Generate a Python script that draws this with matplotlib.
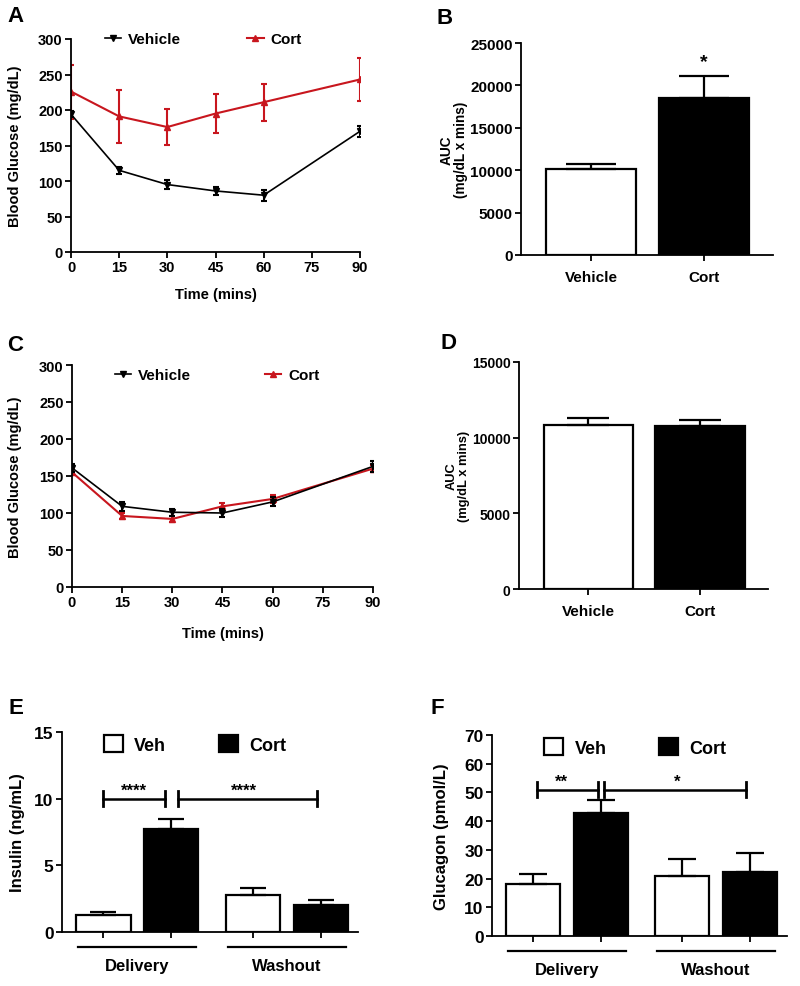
import numpy as np
import matplotlib
matplotlib.use("Agg")
import matplotlib.pyplot as plt
from matplotlib.patches import Patch
from matplotlib.lines import Line2D

plt.rcParams["font.family"] = ["Liberation Sans", "DejaVu Sans"]
plt.rcParams["font.weight"] = "bold"
plt.rcParams["axes.labelweight"] = "bold"
plt.rcParams["axes.linewidth"] = 1.3

RED = "#c8161e"

# data
time = [0, 15, 30, 45, 60, 90]
a_veh = [194, 115, 95, 86, 80, 170]
a_veh_err = [4, 5, 6, 6, 8, 8]
a_cort = [226, 191, 176, 195, 211, 243]
a_cort_err = [38, 37, 25, 27, 26, 30]

c_veh = [161, 109, 101, 100, 115, 163]
c_veh_err = [5, 6, 5, 6, 6, 7]
c_cort = [155, 96, 92, 109, 119, 160]
c_cort_err = [4, 4, 4, 5, 5, 5]

auc_groups = ["Vehicle", "Cort"]
b_auc = [10200, 18550]
b_auc_err = [500, 2550]
d_auc = [10850, 10750]
d_auc_err = [480, 420]

phases = ["Delivery", "Washout"]
e_insulin = [1.25, 7.75, 2.8, 2.0]
e_insulin_err = [0.25, 0.75, 0.5, 0.4]
f_glucagon = [18, 43, 21, 22.3]
f_glucagon_err = [3.7, 4.5, 5.7, 6.5]

W, H = 800, 987
fig = plt.figure(figsize=(W / 100, H / 100), dpi=100)


def px_axes(x0, y0, x1, y1):
    return fig.add_axes([x0 / W, 1 - y1 / H, (x1 - x0) / W, (y1 - y0) / H])


def style(ax, fs):
    for s in ["top", "right"]:
        ax.spines[s].set_visible(False)
    ax.tick_params(direction="out", length=4, width=1.3, labelsize=fs)
    for t in ax.get_xticklabels() + ax.get_yticklabels():
        t.set_fontweight("bold")


def letter(x, y, s):
    fig.text(x / W, 1 - y / H, s, fontsize=16, fontweight="bold", va="top", ha="left")


def line_panel(ax, veh, veh_err, cort, cort_err, leg_x, leg_y, colsp):
    ax.errorbar(time, veh, yerr=veh_err, color="black", lw=1.2, marker="v", ms=5,
                capsize=2.5, elinewidth=1.5, capthick=1.5, zorder=3)
    ax.errorbar(time, cort, yerr=cort_err, color=RED, lw=1.5, marker="^", ms=5,
                capsize=2.5, elinewidth=1.5, capthick=1.5, zorder=2)
    ax.set_xlim(0, 90)
    ax.set_ylim(0, 300)
    ax.set_xticks([0, 15, 30, 45, 60, 75, 90])
    ax.set_yticks(np.arange(0, 301, 50))
    ax.set_xlabel("Time (mins)", fontsize=10.5)
    ax.set_ylabel("Blood Glucose (mg/dL)", fontsize=10.5)
    style(ax, 10.5)
    ax.tick_params(axis="x", pad=2)
    ax.tick_params(axis="y", pad=2)
    for sp in ax.spines.values():
        sp.set_clip_on(False)
    handles = [Line2D([], [], color="black", marker="v", ms=5, lw=1.2),
               Line2D([], [], color=RED, marker="^", ms=5, lw=1.5)]
    ax.legend(handles, ["Vehicle", "Cort"], ncol=2, frameon=False, loc="center left",
              bbox_to_anchor=(leg_x, leg_y), borderpad=0, handlelength=1.1,
              handletextpad=0.45, columnspacing=colsp,
              prop={"size": 11, "weight": "bold"})


def auc_panel(ax, vals, errs, ymax, step, fs, lab_fs, cap):
    x = np.arange(len(auc_groups))
    ax.bar(x, vals, width=0.8, color=["white", "black"], edgecolor="black", lw=1.6, zorder=2)
    ax.errorbar(x, vals, yerr=[np.zeros(len(vals)), errs], fmt="none", ecolor="black",
                elinewidth=1.6, capthick=1.6, capsize=cap, zorder=3)
    ax.set_xlim(-0.62, 1.61)
    ax.set_ylim(0, ymax)
    ax.set_yticks(np.arange(0, ymax + 1, step))
    ax.set_xticks(x)
    ax.set_xticklabels(auc_groups)
    ax.set_ylabel("AUC\n(mg/dL x mins)", fontsize=lab_fs, linespacing=1.05)
    style(ax, fs)
    ax.tick_params(axis="x", pad=7, labelsize=11)
    ax.tick_params(axis="y", pad=2)


def phase_panel(ax, vals, errs, ymax, step, ylabel, lab_x, sig, leg_x, cap):
    x = np.array([0, 1, 2.2, 3.2])
    colors = ["white", "black", "white", "black"]
    ax.bar(x, vals, width=0.8, color=colors, edgecolor="black", lw=1.6, zorder=2)
    ax.errorbar(x, vals, yerr=[np.zeros(len(vals)), errs], fmt="none", ecolor="black",
                elinewidth=1.6, capthick=1.6, capsize=cap, zorder=3)
    ax.set_xlim(-0.61, 3.75)
    ax.set_ylim(0, ymax)
    ax.set_yticks(np.arange(0, ymax + 1, step))
    ax.set_xticks(x)
    ax.set_xticklabels([])
    ax.set_ylabel(ylabel, fontsize=12)
    ax.yaxis.set_label_coords(lab_x, 0.5)
    style(ax, 12.5)
    ax.tick_params(axis="y", pad=2)
    trans = ax.get_xaxis_transform()
    for c, name in zip([0.5, 2.7], phases):
        ax.plot([c - 0.87, c + 0.87], [-0.075, -0.075], color="black", lw=1.6,
                transform=trans, clip_on=False)
        ax.text(c, -0.13, name, transform=trans, ha="center", va="top",
                fontsize=12, fontweight="bold")
    # significance brackets
    cap_h = ymax * 0.036
    for (x0, x1), ylev, star, sx in sig:
        ax.plot([x0, x1], [ylev, ylev], color="black", lw=1.8, zorder=4)
        for xx in (x0, x1):
            ax.plot([xx, xx], [ylev - cap_h, ylev + cap_h], color="black", lw=2, zorder=4)
        ax.text(sx, ylev + ymax * 0.005, star, ha="center", va="bottom",
                fontsize=12, fontweight="bold")
    handles = [Patch(facecolor="white", edgecolor="black", lw=1.6),
               Patch(facecolor="black", edgecolor="black", lw=1.6)]
    ax.legend(handles, ["Veh", "Cort"], ncol=2, frameon=False, loc="upper left",
              bbox_to_anchor=(leg_x, 1.03), borderpad=0, handlelength=1.05,
              handleheight=1.05, handletextpad=0.65, columnspacing=2.9,
              prop={"size": 13, "weight": "bold"})


# A
axA = px_axes(71, 40, 360, 253)
line_panel(axA, a_veh, a_veh_err, a_cort, a_cort_err, 0.09, 1.0, 4.3)
axA.xaxis.set_label_coords(0.5, -0.165)
axA.yaxis.set_label_coords(-0.168, 0.5)
letter(7, 6, "A")

# B
axB = px_axes(521, 44, 773, 256)
auc_panel(axB, b_auc, b_auc_err, 25000, 5000, 11, 9.8, 18)
axB.yaxis.set_label_coords(-0.21, 0.5)
axB.text(1, b_auc[1] + b_auc_err[1] + 700, "*", ha="center", va="bottom", fontsize=14,
         fontweight="bold")
letter(436, 8, "B")

# C
axC = px_axes(72, 366, 373, 588)
line_panel(axC, c_veh, c_veh_err, c_cort, c_cort_err, 0.116, 0.955, 4.8)
axC.xaxis.set_label_coords(0.5, -0.175)
axC.yaxis.set_label_coords(-0.166, 0.5)
letter(7, 335, "C")

# D
axD = px_axes(519, 363, 768, 590)
auc_panel(axD, d_auc, d_auc_err, 15000, 5000, 10, 9.3, 15)
axD.yaxis.set_label_coords(-0.197, 0.5)
letter(441, 333, "D")

# E
axE = px_axes(62, 733, 358, 933)
phase_panel(axE, e_insulin, e_insulin_err, 15, 5, "Insulin (ng/mL)", -0.125,
            [((0, 0.9), 10, "****", 0.45), ((1.1, 3.15), 10, "****", 2.07)], 0.11, 9.5)
letter(9, 698, "E")

# F
axF = px_axes(492, 736, 787, 937)
phase_panel(axF, f_glucagon, f_glucagon_err, 70, 10, "Glucagon (pmol/L)", -0.146,
            [((0.05, 0.95), 51, "**", 0.41), ((1.05, 3.15), 51, "*", 2.13)], 0.145, 10)
letter(430, 698, "F")

fig.savefig("out.png", dpi=100)
